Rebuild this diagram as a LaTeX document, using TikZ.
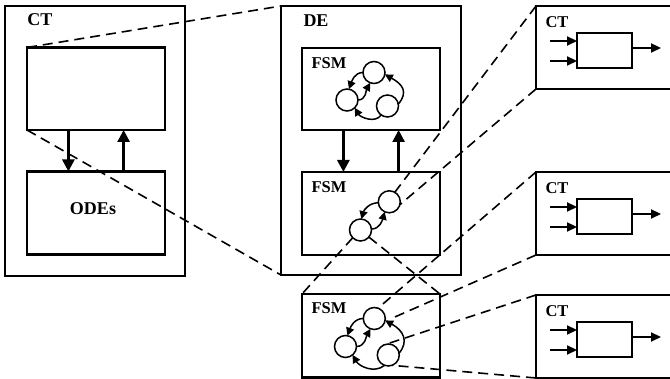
\documentclass[tikz,border=0pt]{standalone}
\usepackage{fontspec}
\setmainfont{Liberation Serif}
\usetikzlibrary{arrows.meta,calc}
\begin{document}
\begin{tikzpicture}[x=1pt,y=1pt,
  box/.style={draw, line width=2.2pt, rectangle, inner sep=0pt, outer sep=0pt, anchor=north west},
  thinbox/.style={draw, line width=1.6pt, rectangle, inner sep=0pt, outer sep=0pt, anchor=north west},
  state/.style={draw, circle, line width=1.5pt, minimum size=22pt, inner sep=0pt, outer sep=0pt},
  biglbl/.style={font=\fontsize{18}{20}\selectfont\bfseries, inner sep=0pt},
  lbl/.style={font=\fontsize{16.5}{18}\selectfont\bfseries, inner sep=0pt},
  flow/.style={line width=2.6pt, -{Triangle[length=12pt,width=12pt]}},
  trans/.style={line width=1.5pt, -{Triangle[length=8pt,width=8pt]}},
  port/.style={line width=2.2pt, -{Triangle[length=10pt,width=9pt]}},
  zoomline/.style={line width=1.6pt, dash pattern=on 10pt off 6pt},
]
\clip (0,0) rectangle (670,-379);
\fill[white] (0,0) rectangle (670,-379);

% continuous-time model with its controller and ODEs
\node[box, minimum width=180pt, minimum height=270pt] (ct) at (5,-6) {};
\node[biglbl] (ctlbl) at (40,-20) {CT};
\node[box, minimum width=138pt, minimum height=82.5pt] (ctA) at (27,-47.5) {};
\node[box, minimum width=138pt, minimum height=83pt] (ctB) at (27,-171.5) {};
\node[biglbl] (odes) at (93,-208.3) {ODEs};
\draw[flow] ($(ctA.south west)!0.3!(ctA.south east)$) -- ($(ctB.north west)!0.3!(ctB.north east)$);
\draw[flow] ($(ctB.north west)!0.7!(ctB.north east)$) -- ($(ctA.south west)!0.7!(ctA.south east)$);

% discrete-event model with two state machines
\node[box, minimum width=180pt, minimum height=269pt] (de) at (281,-6) {};
\node[biglbl] (delbl) at (316,-20.5) {DE};
\node[box, minimum width=138pt, minimum height=82pt] (fsmTop) at (302,-48) {};
\node[lbl] (fsm1) at (329,-63.5) {FSM};
\node[box, minimum width=138pt, minimum height=83pt] (fsmMid) at (302,-172) {};
\node[lbl] (fsm2) at (329,-187.5) {FSM};
\draw[flow] ($(fsmTop.south west)!0.3!(fsmTop.south east)$) -- ($(fsmMid.north west)!0.3!(fsmMid.north east)$);
\draw[flow] ($(fsmMid.north west)!0.7!(fsmMid.north east)$) -- ($(fsmTop.south west)!0.7!(fsmTop.south east)$);

% refined state machine below
\node[box, minimum width=138pt, minimum height=83.5pt] (fsmLow) at (302,-294) {};
\node[lbl] (fsm3) at (329,-308.5) {FSM};

% states of the upper machine
\node[state] (tA) at (374,-72.5) {};
\node[state] (tB) at (347,-100) {};
\node[state] (tC) at (387.5,-106) {};
\draw[trans] (tA.180) to[out=180,in=70] (tB.80);
\draw[trans] (tB.0) to[out=0,in=240] (tA.250);
\draw[trans] (tC.235) to[out=235,in=-60] (tB.-45);
\draw[trans] (tC.10) .. controls +(10,12) and +(18,-10) .. (tA.-10);

% states of the middle machine
\node[state] (dA) at (389.3,-201.8) {};
\node[state] (dB) at (360.5,-230) {};
\draw[trans] (dA.185) to[out=180,in=75] (dB.85);
\draw[trans] (dB.5) to[out=0,in=255] (dA.245);

% states of the lower machine
\node[state] (lA) at (374.3,-318.5) {};
\node[state] (lB) at (345.5,-346.5) {};
\node[state] (lC) at (388.3,-355) {};
\draw[trans] (lA.180) to[out=180,in=70] (lB.80);
\draw[trans] (lB.0) to[out=0,in=240] (lA.250);
\draw[trans] (lC.250) to[out=220,in=-60] (lB.-50);
\draw[trans] (lC.10) .. controls +(10,12) and +(18,-10) .. (lA.-10);

% continuous-time refinements on the right
\foreach \t/\n in {6/1,172/2,295/3} {
  \node[box, minimum width=160pt, minimum height=83pt] (rct\n) at (536,-\t) {};
  \node[lbl] (rlbl\n) at (557,-\t-16) {CT};
  \node[thinbox, minimum width=55pt, minimum height=35pt] (rin\n) at (577,-\t-27) {};
  \coordinate (ria\n) at (550,-\t-35);
  \coordinate (rib\n) at (550,-\t-55);
  \coordinate (rout\n) at (661,-\t-42);
  \draw[port] (ria\n) -- (ria\n -| rin\n.west);
  \draw[port] (rib\n) -- (rib\n -| rin\n.west);
  \draw[port] (rout\n -| rin\n.east) -- (rout\n);
}

% refinement lines
\draw[zoomline] (ctA.north west) -- (de.north west);
\draw[zoomline] (ctA.south west) -- (de.south west);
\draw[zoomline] (dB.225) -- (fsmLow.north west);
\draw[zoomline] (dB.-40) -- (fsmLow.north east);
\draw[zoomline] (rct1.north west) -- (dA.60);
\draw[zoomline] (rct1.south west) -- (dA.-15);
\draw[zoomline] (rct2.north west) -- (lA.70);
\draw[zoomline, shorten >=10pt] (rct2.south west) -- (lA.-15);
\draw[zoomline] (rct3.north west) -- (lC.115);
\draw[zoomline] (rct3.south west) -- (lC.-70);
\end{tikzpicture}
\end{document}
